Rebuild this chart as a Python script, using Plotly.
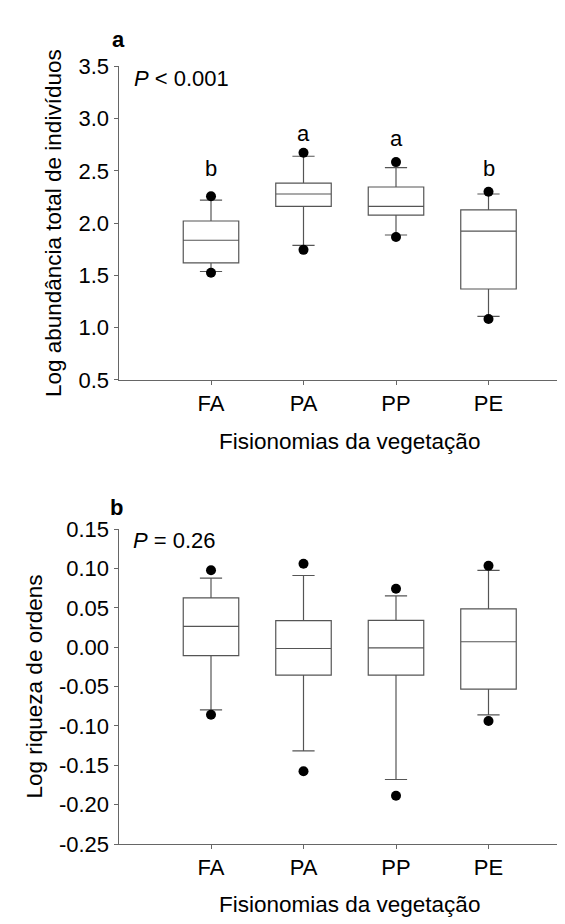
import plotly.graph_objects as go

W, H = 565, 924

categories = ["FA", "PA", "PP", "PE"]
xpos = [0, 1, 2, 3]

# Panel a: Log abundância total de indivíduos
a_q1 = [1.62, 2.16, 2.077, 1.37]
a_med = [1.836, 2.278, 2.16, 1.923]
a_q3 = [2.02, 2.383, 2.345, 2.126]
a_low = [1.537, 1.787, 1.886, 1.108]
a_up = [2.22, 2.639, 2.531, 2.278]
a_out_low = [1.525, 1.744, 1.867, 1.083]
a_out_up = [2.256, 2.673, 2.583, 2.299]
a_letters = ["b", "a", "a", "b"]
a_letter_y = [2.52, 2.86, 2.81, 2.52]

# Panel b: Log riqueza de ordens
b_q1 = [-0.0107, -0.0355, -0.0355, -0.0532]
b_med = [0.0264, -0.0016, -0.0008, 0.007]
b_q3 = [0.0627, 0.0338, 0.0342, 0.0487]
b_low = [-0.0796, -0.1316, -0.168, -0.0858]
b_up = [0.0878, 0.0911, 0.0652, 0.0977]
b_out_low = [-0.0858, -0.1575, -0.1885, -0.0936]
b_out_up = [0.0977, 0.106, 0.0742, 0.1035]

a_ticks = [0.5, 1.0, 1.5, 2.0, 2.5, 3.0, 3.5]
b_ticks = [-0.25, -0.20, -0.15, -0.10, -0.05, 0.00, 0.05, 0.10, 0.15]

FONT = "Liberation Sans, Arial, sans-serif"
FS = 22
FT = 22.5
LINE = "#555555"

fig = go.Figure()

def add_panel(xa, ya, q1, med, q3, low, up, olow, oup):
    fig.add_trace(go.Box(
        x=xpos, q1=q1, median=med, q3=q3, lowerfence=low, upperfence=up,
        width=0.6, whiskerwidth=0.4, boxpoints=False,
        fillcolor="white", line=dict(color=LINE, width=1.2),
        xaxis=xa, yaxis=ya, showlegend=False, hoverinfo="skip"))
    fig.add_trace(go.Scatter(
        x=xpos + xpos, y=list(olow) + list(oup), mode="markers",
        marker=dict(color="black", size=10),
        xaxis=xa, yaxis=ya, showlegend=False, hoverinfo="skip"))

add_panel("x", "y", a_q1, a_med, a_q3, a_low, a_up, a_out_low, a_out_up)
add_panel("x2", "y2", b_q1, b_med, b_q3, b_low, b_up, b_out_low, b_out_up)

x0 = 110.5 / W
xrange = [-1, -1 + (W - 110.5) / 92.5]

def px_y(p):
    return (H - p) / H

axis_common = dict(showgrid=False, zeroline=False, showline=True,
                   linecolor="#666666", linewidth=1, ticks="outside",
                   ticklen=4, tickcolor="#666666", tickwidth=1,
                   tickfont=dict(family=FONT, size=FS, color="black"))

layout_axes = dict(
    xaxis=dict(domain=[x0, 1], range=xrange, tickvals=xpos, ticktext=categories,
               anchor="y", **axis_common),
    yaxis=dict(domain=[px_y(370), px_y(47.5)], range=[0.5, 3.5], tickvals=a_ticks,
               ticktext=[f"{v:.1f}" for v in a_ticks], anchor="x", **axis_common),
    xaxis2=dict(domain=[x0, 1], range=xrange, tickvals=xpos, ticktext=categories,
                anchor="y2", **axis_common),
    yaxis2=dict(domain=[px_y(847), px_y(523.3)], range=[-0.25, 0.15], tickvals=b_ticks,
                ticktext=[f"{v:.2f}" for v in b_ticks], anchor="x2", **axis_common),
)

annotations = []
def ann(text, x, y, xref="paper", yref="paper", size=FS, bold=False, angle=0,
        xanchor="center", yanchor="middle"):
    annotations.append(dict(
        text=f"<b>{text}</b>" if bold else text, x=x, y=y, xref=xref, yref=yref,
        showarrow=False, textangle=angle, xanchor=xanchor, yanchor=yanchor,
        font=dict(family=FONT, size=size, color="black")))

# panel letters
ann("a", 110 / W, px_y(20), bold=True)
ann("b", 108 / W, px_y(501.5), bold=True)
# P values
ann("<i>P</i> < 0.001", 124 / W, px_y(60), xanchor="left")
ann("<i>P</i> = 0.26", 123 / W, px_y(535), xanchor="left")
# group letters
for xi, t, yv in zip(xpos, a_letters, a_letter_y):
    ann(t, xi, yv, xref="x", yref="y")
# axis titles
ann("Log abundância total de indivíduos", 45 / W, px_y(208.75), size=FT, angle=-90)
ann("Log riqueza de ordens", 26 / W, px_y(685), size=FT, angle=-90)
ann("Fisionomias da vegetação", (203 + 480.5) / 2 / W, px_y(433), size=FT)
ann("Fisionomias da vegetação", (203 + 480.5) / 2 / W, px_y(909), size=FT)

fig.update_layout(
    width=W, height=H, margin=dict(l=0, r=0, t=0, b=0),
    paper_bgcolor="white", plot_bgcolor="white",
    font=dict(family=FONT, size=FS, color="black"),
    annotations=annotations, showlegend=False, **layout_axes)

fig.write_html("out.html")
